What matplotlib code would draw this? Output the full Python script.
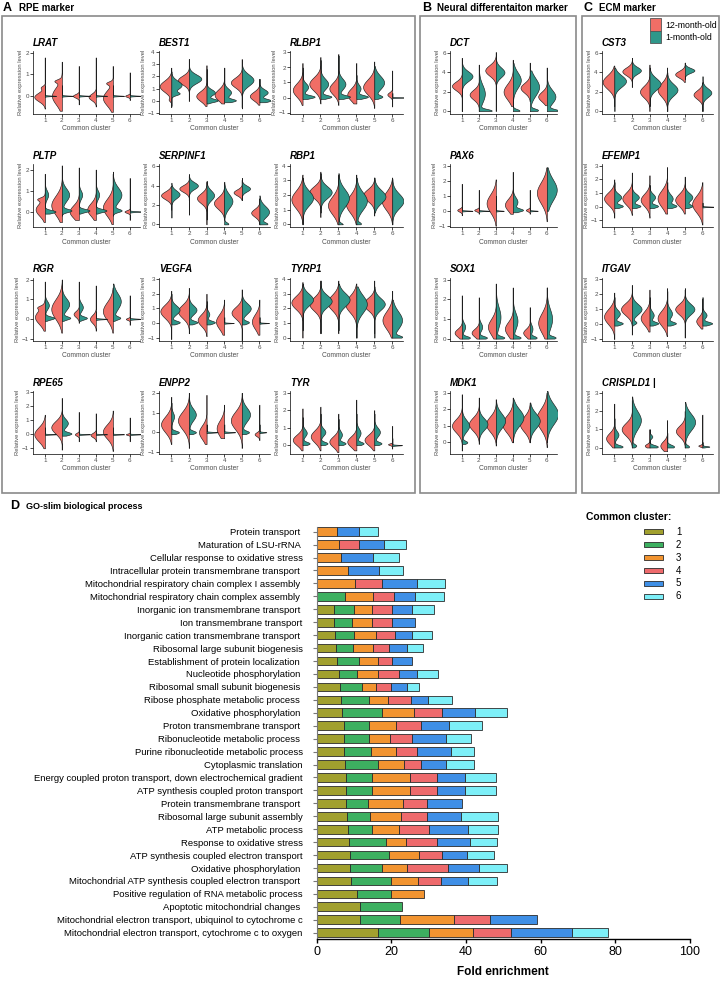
import numpy as np
import matplotlib.pyplot as plt
from matplotlib.patches import Rectangle

plt.rcParams['font.family'] = ['Liberation Sans', 'DejaVu Sans']

# ---------------- violin data ----------------
# each half: (low end, high end, mode, spread, relative width[, second mode, its width])
lrat_12m = [(-0.6, 1.8, -0.05, 0.2, 0.8, 0.4, 0.25), (-0.7, 1.6, 0.0, 0.4, 0.75, 0.7, 0.4),
            (-0.4, 1.4, 0.0, 0.08, 0.45), (-0.5, 1.8, -0.05, 0.15, 0.55),
            (-0.75, 1.4, -0.1, 0.35, 0.75, 0.6, 0.4), (-0.2, 1.1, 0.0, 0.05, 0.35)]
lrat_1m = [(-0.05, 0.5, 0.0, 0.015, 0.85), (-0.05, 0.5, 0.0, 0.015, 0.85), (-0.05, 0.5, 0.0, 0.015, 0.85),
           (-0.05, 0.5, 0.0, 0.015, 0.85), (-0.05, 0.5, 0.0, 0.015, 0.85), (-0.05, 0.5, 0.0, 0.015, 0.85)]

best1_12m = [(-0.5, 2.7, 1.2, 0.45, 0.85, 0.1, 0.15), (0.0, 3.4, 1.7, 0.35, 0.8), (-0.4, 2.9, 0.4, 0.4, 0.75),
             (-0.2, 2.7, 0.5, 0.45, 0.7), (-0.5, 3.4, 1.5, 0.4, 0.8), (-0.3, 1.8, 0.4, 0.35, 0.7)]
best1_1m = [(-0.4, 2.4, 1.3, 0.35, 0.75, 0.6, 0.5), (0.5, 3.4, 1.8, 0.35, 0.9), (-0.2, 2.6, 0.7, 0.25, 0.6, 0.05, 0.8),
            (-0.1, 2.7, 0.7, 0.3, 0.5, 0.05, 0.8), (-0.6, 3.0, 1.7, 0.45, 0.85), (-0.1, 1.8, 0.7, 0.25, 0.6, 0.05, 0.8)]

rlbp1_12m = [(-0.5, 2.3, 0.5, 0.45, 0.7), (-0.4, 2.7, 0.9, 0.45, 0.8), (-0.5, 2.9, 0.6, 0.4, 0.65),
             (-0.4, 2.3, 0.2, 0.4, 0.65), (-0.7, 2.4, 0.7, 0.5, 0.8), (-0.6, 1.8, 0.2, 0.15, 0.35)]
rlbp1_1m = [(-0.1, 2.0, 0.7, 0.25, 0.4, 0.05, 0.85), (-0.1, 2.5, 0.9, 0.35, 0.55, 0.05, 0.75),
            (-0.1, 2.8, 0.9, 0.35, 0.5, 0.05, 0.8), (-0.1, 1.5, 0.6, 0.25, 0.3, 0.05, 0.8),
            (-0.1, 2.1, 1.0, 0.45, 0.7, 0.05, 0.5), (-0.05, 0.3, 0.0, 0.015, 0.85)]

dct_12m = [(0.0, 5.5, 2.6, 0.45, 0.75), (0.0, 4.8, 1.7, 0.5, 0.7), (0.0, 6.1, 4.2, 0.55, 0.8),
           (0.5, 5.3, 2.0, 0.8, 0.7), (1.0, 5.0, 2.4, 0.5, 0.7), (0.6, 4.5, 1.5, 0.5, 0.65)]
dct_1m = [(0.0, 5.0, 3.6, 0.5, 0.8), (0.0, 4.0, 1.8, 0.9, 0.45, 0.05, 0.9), (2.0, 5.7, 4.0, 0.5, 0.65),
          (0.0, 5.0, 3.2, 0.8, 0.6, 0.05, 0.5), (0.0, 4.2, 2.5, 0.9, 0.7, 0.1, 0.6), (0.0, 4.4, 1.5, 0.7, 0.65, 0.05, 0.8)]

cst3_12m = [(0.5, 4.7, 3.0, 0.7, 0.85), (2.5, 5.2, 4.1, 0.4, 0.7), (0.0, 4.8, 2.0, 0.6, 0.7),
            (0.0, 4.5, 2.2, 0.7, 0.7), (3.0, 5.0, 3.8, 0.35, 0.7), (0.0, 3.0, 1.7, 0.45, 0.65)]
cst3_1m = [(0.0, 4.5, 3.1, 0.6, 0.85), (2.5, 5.5, 4.2, 0.35, 0.65), (0.5, 4.5, 2.8, 0.6, 0.8),
           (0.0, 4.0, 2.2, 0.6, 0.75), (3.3, 5.0, 4.2, 0.25, 0.7), (0.0, 3.6, 1.9, 0.45, 0.65)]

pltp_12m = [(-0.5, 1.8, 0.1, 0.3, 0.7, 0.6, 0.4), (-0.5, 2.2, 0.3, 0.45, 0.8), (-0.4, 2.1, 0.0, 0.3, 0.7),
            (-0.4, 2.0, 0.1, 0.3, 0.65), (-0.6, 1.8, 0.2, 0.4, 0.75), (-0.4, 1.6, 0.0, 0.06, 0.4)]
pltp_1m = [(-0.1, 1.5, 0.8, 0.2, 0.25, 0.0, 0.8), (-0.2, 2.1, 0.8, 0.3, 0.55, 0.05, 0.7),
           (-0.1, 1.5, 0.8, 0.2, 0.25, 0.05, 0.8), (-0.1, 1.4, 0.8, 0.2, 0.25, 0.05, 0.8),
           (-0.2, 1.9, 0.8, 0.35, 0.65, 0.05, 0.6), (-0.05, 0.5, 0.0, 0.02, 0.85)]

serpinf1_12m = [(1.5, 4.0, 3.0, 0.4, 0.75), (2.5, 5.0, 3.7, 0.35, 0.7), (0.0, 4.4, 2.7, 0.5, 0.7),
                (0.5, 4.2, 2.2, 0.6, 0.75), (2.5, 4.6, 3.3, 0.3, 0.6), (0.0, 2.7, 1.2, 0.4, 0.6)]
serpinf1_1m = [(0.7, 4.3, 3.1, 0.4, 0.6), (1.0, 5.2, 4.0, 0.35, 0.65), (0.5, 4.5, 3.0, 0.5, 0.55),
               (0.0, 4.4, 2.4, 0.7, 0.6, 0.05, 0.3), (2.5, 4.8, 3.7, 0.3, 0.6), (0.0, 3.0, 1.3, 0.6, 0.7, 0.05, 0.5)]

rbp1_12m = [(0.0, 3.4, 1.7, 0.6, 0.8), (0.5, 3.6, 2.2, 0.4, 0.8), (0.0, 3.4, 1.3, 0.6, 0.75),
            (0.0, 3.4, 1.4, 0.6, 0.75), (0.6, 3.2, 2.0, 0.4, 0.8), (0.0, 3.2, 1.6, 0.6, 0.75)]
rbp1_1m = [(0.0, 3.2, 1.8, 0.5, 0.75), (0.8, 3.5, 2.2, 0.4, 0.8), (0.0, 3.5, 1.8, 0.6, 0.75, 0.0, 0.3),
           (0.0, 3.2, 1.6, 0.6, 0.75, 0.05, 0.3), (0.8, 3.2, 1.9, 0.45, 0.8), (0.0, 3.1, 1.6, 0.5, 0.8)]

pax6_12m = [(-0.3, 1.8, 0.05, 0.1, 0.35), (-0.2, 1.4, 0.05, 0.08, 0.35), (-1.0, 2.1, 0.5, 0.6, 0.7),
            (-0.2, 2.6, 0.4, 0.4, 0.6), (-0.2, 1.4, 0.05, 0.08, 0.3), (-0.7, 2.9, 1.2, 0.7, 0.75)]
pax6_1m = [(-0.05, 0.8, 0.0, 0.02, 0.8), (-0.05, 0.6, 0.0, 0.02, 0.8), (-0.05, 1.0, 0.0, 0.02, 0.6),
           (-0.1, 2.0, 0.6, 0.3, 0.35, 0.05, 0.7), (-0.05, 0.5, 0.0, 0.02, 0.6), (0.0, 2.9, 1.4, 0.7, 0.75)]

efemp1_12m = [(-0.8, 2.0, 0.6, 0.45, 0.75), (-0.6, 2.5, 0.6, 0.45, 0.7), (-0.8, 2.3, 0.5, 0.45, 0.65),
              (-0.5, 2.9, 0.6, 0.6, 0.7), (-0.5, 2.2, 0.5, 0.45, 0.7), (-1.3, 1.8, 0.2, 0.6, 0.75)]
efemp1_1m = [(-0.1, 1.8, 0.7, 0.25, 0.5, 0.05, 0.6), (-0.1, 1.8, 0.7, 0.25, 0.5, 0.05, 0.6),
             (-0.1, 1.6, 0.7, 0.25, 0.4, 0.05, 0.6), (-0.1, 1.8, 0.6, 0.3, 0.4, 0.05, 0.6),
             (-0.1, 1.8, 0.7, 0.3, 0.55, 0.05, 0.5), (-0.05, 0.3, 0.0, 0.02, 0.85)]

rgr_12m = [(-0.6, 1.9, 0.1, 0.35, 0.75, 0.6, 0.3), (-0.7, 2.0, 0.5, 0.5, 0.8), (-0.2, 1.9, 0.25, 0.15, 0.4),
           (-0.6, 1.7, 0.0, 0.2, 0.45), (-0.7, 1.6, 0.4, 0.45, 0.75), (-0.3, 1.2, 0.0, 0.05, 0.3)]
rgr_1m = [(-0.1, 1.5, 0.7, 0.2, 0.3, 0.05, 0.7), (-0.1, 2.0, 0.75, 0.3, 0.55, 0.05, 0.6),
          (-0.1, 1.6, 0.6, 0.2, 0.3, 0.05, 0.6), (-0.05, 0.4, 0.0, 0.02, 0.85),
          (-0.1, 1.8, 0.9, 0.4, 0.6, 0.05, 0.5), (-0.05, 0.4, 0.0, 0.02, 0.85)]

vegfa_12m = [(-1.1, 2.2, 0.8, 0.45, 0.8), (-0.7, 2.4, 0.8, 0.45, 0.8), (-0.9, 2.0, 0.2, 0.4, 0.65),
             (-0.8, 1.6, 0.1, 0.5, 0.6), (-1.2, 2.3, 0.7, 0.4, 0.75), (-0.8, 1.6, 0.1, 0.5, 0.55)]
vegfa_1m = [(-0.1, 2.0, 0.9, 0.3, 0.6, 0.05, 0.6), (-0.1, 2.2, 0.9, 0.3, 0.55, 0.05, 0.6),
            (-0.1, 1.5, 0.6, 0.2, 0.2, 0.05, 0.6), (-0.05, 0.4, 0.0, 0.02, 0.7),
            (-0.1, 2.2, 1.0, 0.35, 0.65, 0.05, 0.5), (-0.05, 0.4, 0.0, 0.02, 0.7)]

tyrp1_12m = [(0.0, 3.8, 2.4, 0.45, 0.8), (0.3, 3.9, 2.3, 0.45, 0.8), (0.3, 3.9, 2.4, 0.5, 0.8),
             (0.0, 3.7, 2.3, 0.55, 0.8), (0.3, 3.9, 2.3, 0.4, 0.8), (0.0, 3.2, 1.2, 0.6, 0.7)]
tyrp1_1m = [(0.5, 3.7, 2.6, 0.4, 0.75), (0.3, 3.9, 2.5, 0.4, 0.8), (0.5, 3.7, 2.6, 0.45, 0.8),
            (0.0, 3.5, 2.3, 0.6, 0.75), (0.0, 3.5, 2.3, 0.4, 0.75), (0.0, 2.6, 1.2, 0.6, 0.7, 0.05, 0.6)]

sox1_12m = [(0.0, 2.2, 0.3, 0.2, 0.55), (0.0, 2.1, 0.3, 0.2, 0.55), (0.0, 2.8, 0.6, 0.4, 0.6),
            (0.0, 2.6, 0.5, 0.35, 0.6), (0.0, 1.6, 0.3, 0.2, 0.5), (0.0, 2.6, 0.8, 0.5, 0.65)]
sox1_1m = [(0.0, 1.2, 0.6, 0.2, 0.25, 0.05, 0.6), (0.0, 1.2, 0.6, 0.2, 0.25, 0.05, 0.6),
           (0.0, 2.4, 1.1, 0.5, 0.35, 0.05, 0.6), (0.0, 2.2, 0.9, 0.4, 0.35, 0.05, 0.55),
           (0.0, 1.2, 0.5, 0.2, 0.2, 0.05, 0.5), (0.0, 2.6, 1.0, 0.5, 0.4, 0.05, 0.6)]

itgav_12m = [(-1.0, 2.1, 0.5, 0.5, 0.75), (-0.7, 2.6, 1.0, 0.4, 0.8), (-0.5, 2.3, 0.4, 0.45, 0.65),
             (-0.8, 2.4, 0.4, 0.5, 0.7), (-0.9, 2.3, 1.0, 0.35, 0.7), (-0.3, 1.7, 0.2, 0.3, 0.45)]
itgav_1m = [(-0.1, 1.8, 0.7, 0.25, 0.4, 0.05, 0.6), (-0.1, 2.6, 1.0, 0.35, 0.7, 0.1, 0.3),
            (-0.1, 1.8, 0.6, 0.25, 0.3, 0.05, 0.6), (-0.1, 2.2, 0.7, 0.3, 0.35, 0.05, 0.6),
            (-0.1, 2.4, 1.0, 0.35, 0.7), (-0.1, 1.8, 0.6, 0.2, 0.3, 0.05, 0.7)]

rpe65_12m = [(-1.0, 1.4, 0.0, 0.5, 0.8), (-1.1, 2.6, 0.5, 0.45, 0.8), (-0.5, 1.6, 0.0, 0.1, 0.3),
             (-0.5, 1.5, -0.05, 0.15, 0.4), (-1.2, 1.7, 0.2, 0.5, 0.75), (-0.5, 1.2, 0.0, 0.05, 0.3)]
rpe65_1m = [(-0.05, 0.5, 0.0, 0.02, 0.85), (-0.1, 2.2, 0.8, 0.3, 0.45, 0.05, 0.7), (-0.05, 0.5, 0.0, 0.02, 0.85),
            (-0.05, 0.5, 0.0, 0.02, 0.85), (-0.05, 0.5, 0.0, 0.02, 0.85), (-0.05, 0.5, 0.0, 0.02, 0.85)]

enpp2_12m = [(-0.6, 1.8, 0.4, 0.4, 0.75), (-0.8, 2.0, 0.6, 0.45, 0.8), (-0.6, 1.9, 0.0, 0.35, 0.55),
             (-0.3, 1.4, 0.2, 0.4, 0.55), (-0.8, 2.0, 0.6, 0.45, 0.8), (-0.4, 1.4, -0.1, 0.1, 0.35)]
enpp2_1m = [(-0.1, 1.5, 0.8, 0.2, 0.2, 0.0, 0.55), (-0.1, 2.0, 0.9, 0.3, 0.5, 0.0, 0.5),
            (-0.05, 0.4, 0.0, 0.02, 0.8), (-0.05, 0.4, 0.0, 0.02, 0.8),
            (-0.1, 2.0, 0.9, 0.35, 0.6, 0.0, 0.5), (-0.05, 0.4, 0.0, 0.02, 0.5)]

tyr_12m = [(-0.3, 2.1, 0.3, 0.3, 0.7), (-0.3, 2.2, 0.5, 0.35, 0.7), (-0.4, 1.8, 0.2, 0.3, 0.65),
           (-0.3, 2.6, 0.2, 0.3, 0.65), (-0.3, 2.0, 0.3, 0.3, 0.7), (-0.2, 1.1, 0.05, 0.05, 0.3)]
tyr_1m = [(0.0, 1.6, 0.7, 0.2, 0.3, 0.1, 0.5), (0.0, 1.8, 0.75, 0.2, 0.35, 0.1, 0.5),
          (0.0, 1.5, 0.6, 0.2, 0.25, 0.1, 0.5), (0.0, 1.8, 0.7, 0.25, 0.3, 0.1, 0.5),
          (0.0, 1.8, 0.75, 0.25, 0.4, 0.1, 0.5), (-0.05, 0.4, 0.0, 0.02, 0.7)]

mdk1_12m = [(-0.5, 2.9, 1.0, 0.4, 0.75), (-0.1, 2.7, 1.1, 0.4, 0.75), (-0.2, 2.6, 1.1, 0.45, 0.75),
            (0.0, 2.7, 1.1, 0.5, 0.8), (0.0, 2.4, 1.1, 0.45, 0.75), (-0.3, 3.0, 1.4, 0.6, 0.8)]
mdk1_1m = [(-0.1, 2.5, 1.0, 0.35, 0.55, 0.0, 0.4), (0.0, 2.4, 1.1, 0.35, 0.65), (0.0, 2.5, 1.3, 0.45, 0.7),
           (0.0, 2.6, 1.5, 0.5, 0.8), (0.0, 2.4, 1.3, 0.45, 0.75), (0.0, 3.1, 1.7, 0.6, 0.85)]

crispld1_12m = [(0.0, 2.4, 0.5, 0.3, 0.6), (0.0, 2.6, 1.0, 0.35, 0.75), (0.0, 1.0, 0.1, 0.1, 0.35),
                (-0.2, 1.5, 0.1, 0.25, 0.5), (0.0, 2.0, 0.9, 0.3, 0.65), (0.0, 1.8, 0.1, 0.05, 0.3)]
crispld1_1m = [(0.0, 1.6, 0.7, 0.2, 0.3, 0.05, 0.6), (0.0, 2.8, 1.5, 0.5, 0.65, 0.1, 0.3),
               (0.0, 1.0, 0.6, 0.1, 0.2, 0.05, 0.6), (0.0, 0.8, 0.05, 0.1, 0.5),
               (0.0, 2.5, 1.4, 0.45, 0.75, 0.05, 0.3), (0.0, 0.3, 0.05, 0.03, 0.5)]

# (title, 12-month, 1-month, y limits, y ticks, column, row)
violin_panels = [
    ('LRAT', lrat_12m, lrat_1m, (-0.85, 2.1), [0, 1, 2], 0, 0),
    ('BEST1', best1_12m, best1_1m, (-1.05, 4.05), [-1, 0, 1, 2, 3, 4], 1, 0),
    ('RLBP1', rlbp1_12m, rlbp1_1m, (-1.1, 3.1), [-1, 0, 1, 2, 3], 2, 0),
    ('DCT', dct_12m, dct_1m, (-0.3, 6.2), [0, 2, 4, 6], 3, 0),
    ('CST3', cst3_12m, cst3_1m, (-0.3, 6.2), [0, 2, 4, 6], 4, 0),
    ('PLTP', pltp_12m, pltp_1m, (-0.75, 2.25), [0, 1, 2], 0, 1),
    ('SERPINF1', serpinf1_12m, serpinf1_1m, (-0.3, 6.2), [0, 2, 4, 6], 1, 1),
    ('RBP1', rbp1_12m, rbp1_1m, (-0.2, 4.1), [0, 1, 2, 3, 4], 2, 1),
    ('PAX6', pax6_12m, pax6_1m, (-1.1, 3.1), [-1, 0, 1, 2, 3], 3, 1),
    ('EFEMP1', efemp1_12m, efemp1_1m, (-1.5, 3.1), [-1, 0, 1, 2, 3], 4, 1),
    ('RGR', rgr_12m, rgr_1m, (-1.1, 2.1), [-1, 0, 1, 2], 0, 2),
    ('VEGFA', vegfa_12m, vegfa_1m, (-1.2, 3.1), [-1, 0, 1, 2, 3], 1, 2),
    ('TYRP1', tyrp1_12m, tyrp1_1m, (-0.2, 4.1), [0, 1, 2, 3, 4], 2, 2),
    ('SOX1', sox1_12m, sox1_1m, (-0.1, 3.1), [0, 1, 2, 3], 3, 2),
    ('ITGAV', itgav_12m, itgav_1m, (-1.1, 3.1), [-1, 0, 1, 2, 3], 4, 2),
    ('RPE65', rpe65_12m, rpe65_1m, (-1.4, 3.1), [-1, 0, 1, 2, 3], 0, 3),
    ('ENPP2', enpp2_12m, enpp2_1m, (-1.1, 2.1), [-1, 0, 1, 2], 1, 3),
    ('TYR', tyr_12m, tyr_1m, (-0.5, 3.1), [0, 1, 2, 3], 2, 3),
    ('MDK1', mdk1_12m, mdk1_1m, (-0.7, 3.1), [0, 1, 2, 3], 3, 3),
    ('CRISPLD1 |', crispld1_12m, crispld1_1m, (-0.35, 3.1), [0, 1, 2, 3], 4, 3),
]
clusters = [1, 2, 3, 4, 5, 6]
age_labels = ['12-month-old', '1-month-old']
age_colors = ['#F06E66', '#2F978A']

# ---------------- GO-slim data (top to bottom) ----------------
go_terms = ['Protein transport ', 'Maturation of LSU-rRNA ', 'Cellular response to oxidative stress',
            'Intracellular protein transmembrane transport ', 'Mitochondrial respiratory chain complex I assembly ',
            'Mitochondrial respiratory chain complex assembly ', 'Inorganic ion transmembrane transport ',
            'Ion transmembrane transport', 'Inorganic cation transmembrane transport ',
            'Ribosomal large subunit biogenesis', 'Establishment of protein localization ',
            'Nucleotide phosphorylation ', 'Ribosomal small subunit biogenesis ',
            'Ribose phosphate metabolic process ', 'Oxidative phosphorylation ', 'Proton transmembrane transport ',
            'Ribonucleotide metabolic process ', 'Purine ribonucleotide metabolic process',
            'Cytoplasmic translation', 'Energy coupled proton transport, down electrochemical gradient',
            'ATP synthesis coupled proton transport', 'Protein transmembrane transport ',
            'Ribosomal large subunit assembly', 'ATP metabolic process', 'Response to oxidative stress',
            'ATP synthesis coupled electron transport', 'Oxidative phosphorylation ',
            'Mitochondrial ATP synthesis coupled electron transport ', 'Positive regulation of RNA metabolic process',
            'Apoptotic mitochondrial changes ', 'Mitochondrial electron transport, ubiquinol to cytochrome c',
            'Mitochondrial electron transport, cytochrome c to oxygen']
cluster1 = [0, 0, 0, 0, 0, 0, 4.7, 4.7, 4.8, 5.1, 5.5, 5.9, 6.2, 6.4, 6.7, 7.2,
            7.2, 7.4, 7.5, 7.9, 7.9, 7.9, 8.2, 8.5, 8.7, 8.9, 8.9, 9.2, 10.9, 11.7, 11.7, 16.3]
cluster2 = [0, 0, 0, 0, 0, 7.7, 5.4, 4.7, 5.3, 4.5, 5.7, 4.8, 5.9, 7.5, 10.9, 6.7,
            6.9, 7.1, 8.9, 6.8, 6.8, 5.9, 6.0, 6.4, 9.8, 10.4, 8.7, 10.8, 9.1, 11.1, 10.7, 13.8]
cluster3 = [5.5, 6.0, 6.4, 8.5, 10.3, 7.5, 4.6, 5.5, 5.7, 5.6, 5.1, 5.6, 3.9, 5.3, 8.4, 7.3,
            5.5, 6.8, 6.9, 10.2, 10.2, 9.2, 8.5, 7.2, 5.3, 8.2, 6.5, 7.2, 8.8, 0, 14.5, 11.7]
cluster4 = [0, 5.2, 0, 0, 7.3, 5.6, 5.4, 5.4, 5.2, 4.3, 3.8, 5.8, 3.8, 6.1, 7.5, 6.7,
            6.0, 5.7, 4.7, 7.3, 7.3, 6.6, 6.9, 8.1, 8.3, 6.1, 11.0, 6.2, 0, 0, 9.4, 10.3]
cluster5 = [5.7, 6.7, 8.6, 8.3, 9.2, 5.6, 5.4, 5.9, 4.5, 4.6, 5.3, 4.8, 4.5, 4.6, 8.8, 7.5,
            9.0, 9.0, 6.6, 7.4, 7.4, 9.2, 9.0, 10.4, 8.9, 6.7, 8.3, 7.0, 0, 0, 12.8, 16.2]
cluster6 = [5.1, 6.0, 7.1, 6.2, 7.5, 7.8, 6.0, 0, 5.4, 4.5, 0, 5.7, 3.2, 6.3, 8.6, 8.8,
            6.8, 6.2, 7.5, 8.3, 8.3, 0, 10.1, 8.1, 7.2, 7.3, 7.5, 7.9, 0, 0, 0, 9.8]
cluster_names = ['1', '2', '3', '4', '5', '6']
cluster_colors = ['#A1A02E', '#3DB060', '#F29430', '#EE6A6C', '#3F8FE6', '#7DEFF8']

W, H = 721, 984
HALF = 0.78   # largest half-violin width, in cluster units
fig = plt.figure(figsize=(W / 100, H / 100), dpi=100)


def box(x0, y0, x1, y1):
    # pixel box -> figure fraction [left, bottom, width, height]
    return [x0 / W, 1 - y1 / H, (x1 - x0) / W, (y1 - y0) / H]


def half_violin(p, span):
    lo, hi, m, s, w = p[:5]
    y = np.linspace(lo, hi, 600)
    d = w * np.exp(-0.5 * ((y - m) / s) ** 2)
    if len(p) > 5:
        d = d + p[6] * np.exp(-0.5 * ((y - p[5]) / (0.025 * span)) ** 2)
    d = np.maximum(d * HALF, 0.012)
    d[0] = d[-1] = 0.0
    return dict(coords=y, vals=d, mean=m, median=m, min=lo, max=hi)


# ---------------- panel frames and headers ----------------
for x0, x1 in [(2, 415), (420, 576), (582, 719)]:
    fig.add_artist(Rectangle((x0 / W, 1 - 493 / H), (x1 - x0) / W, (493 - 16) / H,
                             transform=fig.transFigure, fill=False, edgecolor='#8a8a8a', linewidth=1.2))
for letter, lx, label, tx in [('A', 3, 'RPE marker', 19), ('B', 422, 'Neural differentaiton marker', 437),
                              ('C', 584, 'ECM marker', 599)]:
    fig.text(lx / W, 1 - 8 / H, letter, fontsize=9, fontweight='bold', va='center')
    fig.text(tx / W, 1 - 8 / H, label, fontsize=7, fontweight='bold', va='center')

# ---------------- violin panels ----------------
col_left = [33, 159, 290, 450, 602]
col_width = [107, 111, 113, 107, 111]
for name, red, teal, ylim, ticks, c, r in violin_panels:
    top = 51 + 113.3 * r
    ax = fig.add_axes(box(col_left[c], top, col_left[c] + col_width[c], top + 63))
    span = ylim[1] - ylim[0]
    for halves, side, color in [(red, 'low', age_colors[0]), (teal, 'high', age_colors[1])]:
        stats = [half_violin(p, span) for p in halves]
        widths = [2 * st['vals'].max() for st in stats]
        parts = ax.violin(stats, positions=clusters, widths=widths, side=side,
                          showextrema=False, showmeans=False, showmedians=False)
        for b in parts['bodies']:
            b.set_facecolor(color)
            b.set_edgecolor('#1e1e1e')
            b.set_linewidth(0.45)
            b.set_alpha(1)
    ax.set_xlim(0.3, 6.6)
    ax.set_ylim(*ylim)
    ax.set_xticks(clusters)
    ax.set_yticks(ticks)
    ax.spines[['top', 'right']].set_visible(False)
    for sp in ax.spines.values():
        sp.set_linewidth(0.5)
    ax.tick_params(length=2, width=0.5, labelsize=4.5, pad=1, labelcolor='#4d4d4d')
    ax.set_xlabel('Common cluster', fontsize=4.8, labelpad=1.5, color='#4d4d4d')
    ax.set_ylabel('Relative expression level', fontsize=4.2, labelpad=1.5, color='#4d4d4d')
    ax.text(0.0, 1.05, name, transform=ax.transAxes, fontsize=7, fontweight='bold',
            style='italic', ha='left', va='bottom')

# age legend
for k, (lab, col) in enumerate(zip(age_labels, age_colors)):
    y0 = 18.5 + 12.5 * k
    fig.add_artist(Rectangle((650 / W, 1 - (y0 + 12) / H), 11 / W, 12 / H, transform=fig.transFigure,
                             facecolor=col, edgecolor='#555555', linewidth=0.6))
    fig.text(665 / W, 1 - (y0 + 6.5) / H, lab, fontsize=6.3, va='center')

# ---------------- GO-slim bar chart ----------------
fig.text(10 / W, 1 - 506 / H, 'D', fontsize=9, fontweight='bold', va='center')
fig.text(26 / W, 1 - 506 / H, 'GO-slim biological process', fontsize=6.5, fontweight='bold', va='center')

bx = fig.add_axes(box(316.7, 526.5, 690, 939.3))
ypos = np.arange(len(go_terms))
left = np.zeros(len(go_terms))
for vals, col in zip([cluster1, cluster2, cluster3, cluster4, cluster5, cluster6], cluster_colors):
    vals = np.array(vals, dtype=float)
    keep = vals > 0
    bx.barh(ypos[keep], vals[keep], left=left[keep], height=0.67, color=col,
            edgecolor='#2b2b2b', linewidth=0.6)
    left += vals
bx.set_xlim(0, 100)
bx.set_ylim(len(go_terms) - 0.49, -0.4)
bx.set_yticks(ypos)
bx.set_yticklabels(go_terms, fontsize=6.8)
bx.set_xticks([0, 20, 40, 60, 80, 100])
bx.spines[['top', 'right']].set_visible(False)
bx.spines['left'].set_color('#777777')
bx.spines['bottom'].set_linewidth(1.0)
bx.tick_params(axis='y', length=3, width=0.8, color='#777777', pad=7)
bx.tick_params(axis='x', length=3, width=1.0, labelsize=9, pad=2)
fig.text(503 / W, 1 - 972 / H, 'Fold enrichment', fontsize=8.5, fontweight='bold', ha='center', va='center')

# cluster legend
fig.text(586 / W, 1 - 517 / H, 'Common cluster:', fontsize=7.5, fontweight='bold', va='center')
for k, (lab, col) in enumerate(zip(cluster_names, cluster_colors)):
    yc = 531.7 + 12.94 * k
    fig.add_artist(Rectangle((644 / W, 1 - (yc + 2.7) / H), 19 / W, 5.4 / H, transform=fig.transFigure,
                             facecolor=col, edgecolor='#2b2b2b', linewidth=0.6))
    fig.text(676 / W, 1 - yc / H, lab, fontsize=7, va='center')

fig.savefig('out.png', dpi=100)
